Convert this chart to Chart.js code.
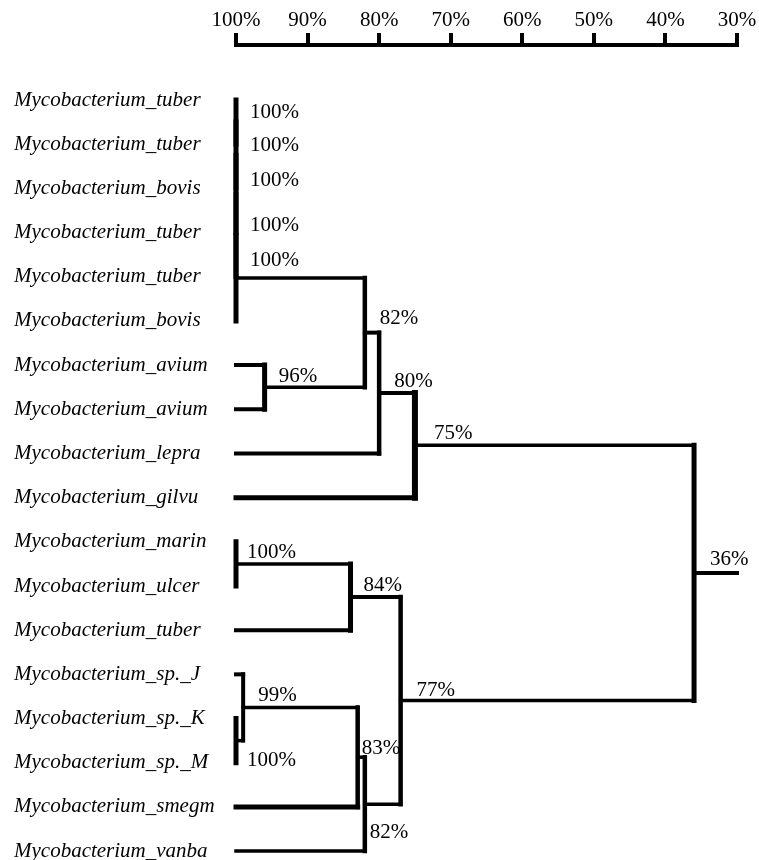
<!DOCTYPE html>
<html>
<head>
<meta charset="utf-8">
<script src="https://cdn.jsdelivr.net/npm/chart.js@4.4.1/dist/chart.umd.min.js"></script>
<style>
  html, body { margin: 0; padding: 0; background: #fff; }
  #wrap { width: 759px; height: 860px; }
</style>
</head>
<body>
<div id="wrap"><canvas id="tree"></canvas></div>
<script>

// Leaves, top to bottom
var leafNames = [
	'Mycobacterium_tuber', 'Mycobacterium_tuber', 'Mycobacterium_bovis',
	'Mycobacterium_tuber', 'Mycobacterium_tuber', 'Mycobacterium_bovis',
	'Mycobacterium_avium', 'Mycobacterium_avium', 'Mycobacterium_lepra',
	'Mycobacterium_gilvu', 'Mycobacterium_marin', 'Mycobacterium_ulcer',
	'Mycobacterium_tuber', 'Mycobacterium_sp._J', 'Mycobacterium_sp._K',
	'Mycobacterium_sp._M', 'Mycobacterium_smegm', 'Mycobacterium_vanba'
];

// Merges: each joins two clusters (L = leaf, M = earlier merge) at a similarity (%)
var mergeA   = ['L0', 'M0', 'M1', 'M2', 'M3', 'L6', 'M4', 'M6', 'M7', 'L10', 'M9',  'L14', 'L13', 'M12', 'M13', 'M10', 'M8'];
var mergeB   = ['L1', 'L2', 'L3', 'L4', 'L5', 'L7', 'M5', 'L8', 'L9', 'L11', 'L12', 'L15', 'M11', 'L16', 'L17', 'M14', 'M15'];
var mergeSim = [100,  100,  100,  100,  100,  96,   82,   80,   75,   100,   84,    100,   99,    83,    82,    77,    36];

// Similarity scale
var axisTicks = [100, 90, 80, 70, 60, 50, 40, 30];

// Styles (line widths) and label nudges, kept apart from the data
var leafStubWidth = [4, 4, 4, 4, 4, 4, 4, 4, 4, 5, 4, 4, 4, 4, 4, 4, 5, 3.5];
var vertWidth = [5, 5, 5, 5, 5, 5, 4.5, 4.5, 6, 5, 5, 5, 4, 4.5, 4.5, 4.5, 5];
var outWidth  = [3.5, 3.5, 3.5, 3.5, 3.5, 3.5, 4, 4, 3.5, 3.5, 4, 3.5, 3.5, 3.5, 3.5, 3.5, 4];
var labelNudge = [
	[0, 2], [0, 2], [0, -2], [0, 2], [0, -6], [0, 1], [1, -3], [1, 0], [5, 0],
	[-3, 0], [-1, 0], [-3, 31], [1, 0], [-10, 3], [-9, 40], [2, 1], [2, -2]
];

// Lay out the tree from the merges
var pos = {};
leafNames.forEach(function (n, i) { pos['L' + i] = { x: 100, y: i }; });

function widthOf(key) {
	if (key[0] == 'L') return leafStubWidth[+key.slice(1)];
	return outWidth[+key.slice(1)];
}

var segments = [];
mergeSim.forEach(function (s, k) {
	var a = pos[mergeA[k]], b = pos[mergeB[k]];
	if (a.x != s) segments.push({ pts: [{ x: a.x, y: a.y }, { x: s, y: a.y }], w: widthOf(mergeA[k]) });
	if (b.x != s) segments.push({ pts: [{ x: b.x, y: b.y }, { x: s, y: b.y }], w: widthOf(mergeB[k]) });
	segments.push({ pts: [{ x: s, y: a.y }, { x: s, y: b.y }], w: vertWidth[k] });
	pos['M' + k] = { x: s, y: (a.y + b.y) / 2 };
});
// root stub out to the end of the scale
var root = pos['M' + (mergeSim.length - 1)];
segments.push({ pts: [{ x: root.x, y: root.y }, { x: axisTicks[axisTicks.length - 1], y: root.y }], w: outWidth[outWidth.length - 1] });

var datasets = segments.map(function (seg) {
	return {
		data: seg.pts,
		showLine: true,
		borderColor: '#000',
		borderWidth: seg.w,
		borderCapStyle: 'square',
		pointRadius: 0,
		fill: false,
		clip: false
	};
});

// Percent labels at each node
var nodeLabels = {
	id: 'nodeLabels',
	afterDatasetsDraw: function (chart) {
		var ctx = chart.ctx, sx = chart.scales.x, sy = chart.scales.y;
		ctx.save();
		ctx.font = '21px "Liberation Serif"';
		ctx.fillStyle = '#000';
		ctx.textBaseline = 'alphabetic';
		ctx.textAlign = 'left';
		mergeSim.forEach(function (s, k) {
			var p = pos['M' + k];
			ctx.fillText(s + '%', sx.getPixelForValue(s) + 14 + labelNudge[k][0], sy.getPixelForValue(p.y) - 6 + labelNudge[k][1]);
		});
		ctx.restore();
	}
};

new Chart(document.getElementById('tree').getContext('2d'), {
	type: 'scatter',
	data: { datasets: datasets },
	plugins: [nodeLabels],
	options: {
		responsive: true,
		maintainAspectRatio: false,
		animation: false,
		layout: { padding: { left: 14, right: 22, top: 0, bottom: 0 } },
		plugins: { legend: { display: false }, tooltip: { enabled: false } },
		scales: {
			x: {
				type: 'linear',
				position: 'top',
				reverse: true,
				min: 30,
				max: 100,
				afterBuildTicks: function (s) { s.ticks = axisTicks.map(function (v) { return { value: v }; }); },
				afterFit: function (s) { s.height = 45; },
				ticks: {
					color: '#000',
					padding: 0,
					autoSkip: false,
					maxRotation: 0,
					font: { family: '"Liberation Serif"', size: 21 },
					callback: function (v) { return v + '%'; }
				},
				grid: { drawOnChartArea: false, drawTicks: true, tickLength: 12, lineWidth: 4, color: '#000' },
				border: { display: true, width: 4, color: '#000' }
			},
			y: {
				type: 'linear',
				reverse: true,
				min: -1.245,
				max: 17.202,
				afterBuildTicks: function (s) { s.ticks = leafNames.map(function (n, i) { return { value: i }; }); },
				afterFit: function (s) {
					s.width = 222;
					// no extra room for half-labels at the ends
					s.paddingTop = 0;
					s.paddingBottom = 0;
				},
				ticks: {
					color: '#000',
					padding: 0,
					autoSkip: false,
					crossAlign: 'far',
					font: { family: '"Liberation Serif"', size: 21, style: 'italic' },
					callback: function (v) { return leafNames[v]; }
				},
				grid: { display: false },
				border: { display: false }
			}
		}
	}
});
</script>
</body>
</html>
